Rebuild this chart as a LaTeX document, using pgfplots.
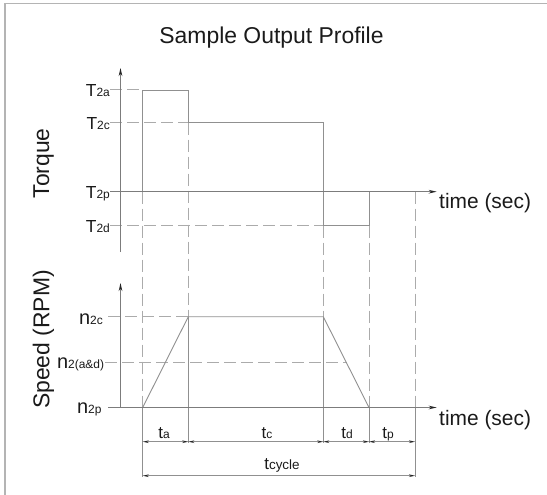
\documentclass[border=0pt]{standalone}
\usepackage{fontspec}
\setmainfont{Liberation Sans}
\usepackage{pgfplots}
\pgfplotsset{compat=1.18}
\usetikzlibrary{arrows.meta}
\definecolor{axc}{HTML}{7C7C7C}
\definecolor{prc}{HTML}{909090}
\definecolor{dsc}{HTML}{ABABAB}
\definecolor{brc}{HTML}{B4B4B4}
\definecolor{txc}{HTML}{1A1A1A}
\newcommand{\fs}[1]{\fontsize{#1}{#1}\selectfont}
\begin{document}
\begin{tikzpicture}
\begin{axis}[
  width=547bp, height=495bp, scale only axis,
  xmin=0, xmax=547, ymin=0, ymax=495, y dir=reverse,
  axis lines=none, clip=false,
  every axis plot/.append style={line cap=butt, line join=miter},
]
\coordinate (bl) at (axis cs:0,495);
\coordinate (tr) at (axis cs:547,0);
% frame
\addplot[brc, line width=1.5bp] coordinates {(5,495) (5,3.5) (547,3.5)};
% dashed guide lines
\pgfplotsset{dl/.style={dsc, line width=1bp, dash pattern=on 12bp off 5bp}}
\addplot[dl] coordinates {(110,90) (142.7,90)};
\addplot[dl] coordinates {(110,122.7) (188.3,122.7)};
\addplot[dl] coordinates {(110,225.7) (323.3,225.7)};
\addplot[dl] coordinates {(108,316.7) (188.3,316.7)};
\addplot[dl] coordinates {(105,362.3) (346.5,362.3)};
\addplot[dl] coordinates {(142.7,191.7) (142.7,407.5)};
\addplot[dl] coordinates {(188.3,122.7) (188.3,316.7)};
\addplot[dl] coordinates {(323.3,225.7) (323.3,316.7)};
\addplot[dl] coordinates {(369,225.7) (369,407.5)};
\addplot[dl] coordinates {(415,191.7) (415,407.5)};
% extension lines
\pgfplotsset{el/.style={prc, line width=0.9bp}}
\addplot[el] coordinates {(142.7,407.5) (142.7,476.5)};
\addplot[el] coordinates {(188.3,316.7) (188.3,443)};
\addplot[el] coordinates {(323.3,316.7) (323.3,443)};
\addplot[el] coordinates {(369,407.5) (369,443)};
\addplot[el] coordinates {(415,407.5) (415,476.5)};
% dimension lines
\pgfplotsset{dm/.style={prc, line width=0.9bp, {Stealth[length=6bp,width=2.6bp,color=black!85]}-{Stealth[length=6bp,width=2.6bp,color=black!85]}}}
\addplot[dm] coordinates {(142.7,441.7) (188.3,441.7)};
\addplot[dm] coordinates {(188.3,441.7) (323.3,441.7)};
\addplot[dm] coordinates {(323.3,441.7) (369,441.7)};
\addplot[dm] coordinates {(369,441.7) (415,441.7)};
\addplot[dm] coordinates {(142.7,475.7) (415,475.7)};
% profiles
\addplot[prc, line width=0.9bp] coordinates {(142.7,191.7) (142.7,90) (188.3,90) (188.3,122.7) (323.3,122.7) (323.3,225.7) (369,225.7) (369,191.7)};
\addplot[prc, line width=0.9bp] coordinates {(142.7,407.5) (188.3,316.7) (323.3,316.7) (369,407.5)};
% axes
\pgfplotsset{ax/.style={axc, line width=1.25bp, -{Stealth[length=8bp,width=3.6bp,color=black!85]}}}
\addplot[ax] coordinates {(120.5,252) (120.5,68)};
\addplot[ax] coordinates {(110,191.7) (436.7,191.7)};
\addplot[ax] coordinates {(120.5,407.5) (120.5,283)};
\addplot[ax] coordinates {(108,407.5) (436.7,407.5)};
% texts
\node[txc, anchor=base, inner sep=0] at (axis cs:271.5,44) {\fs{23}Sample Output Profile};
\node[txc, rotate=90, inner sep=0] at (axis cs:43.5,163.3) {\fs{23}Torque};
\node[txc, rotate=90, inner sep=0] at (axis cs:43.5,339.5) {\fs{23}Speed (RPM)};
\node[txc, anchor=west, inner sep=0] at (axis cs:439,203) {\fs{21}time (sec)};
\node[txc, anchor=west, inner sep=0] at (axis cs:439,420) {\fs{21}time (sec)};
\node[txc, anchor=base east, inner sep=0] at (axis cs:110,96.7) {\fs{17.5}T\fs{12}2a};
\node[txc, anchor=base east, inner sep=0] at (axis cs:110,129.4) {\fs{17.5}T\fs{12}2c};
\node[txc, anchor=base east, inner sep=0] at (axis cs:110,198.4) {\fs{17.5}T\fs{12}2p};
\node[txc, anchor=base east, inner sep=0] at (axis cs:110,232.4) {\fs{17.5}T\fs{12}2d};
\node[txc, anchor=base east, inner sep=0] at (axis cs:103,324) {\fs{20}n\fs{12}2c};
\node[txc, anchor=base east, inner sep=0] at (axis cs:104.3,368.3) {\fs{20}n\fs{12}2(a\&d)};
\node[txc, anchor=base east, inner sep=0] at (axis cs:101.7,413.3) {\fs{20}n\fs{12}2p};
\node[txc, anchor=base, inner sep=0] at (axis cs:164,438.5) {\fs{17}t\fs{12}a};
\node[txc, anchor=base, inner sep=0] at (axis cs:267,438.5) {\fs{17}t\fs{12}c};
\node[txc, anchor=base, inner sep=0] at (axis cs:347,438.5) {\fs{17}t\fs{12}d};
\node[txc, anchor=base, inner sep=0] at (axis cs:388,438.5) {\fs{17}t\fs{12}p};
\node[txc, anchor=base, inner sep=0] at (axis cs:282,469.5) {\fs{17}t\fs{13.5}cycle};
\end{axis}
\pgfresetboundingbox
\useasboundingbox (bl) rectangle (tr);
\end{tikzpicture}
\end{document}
